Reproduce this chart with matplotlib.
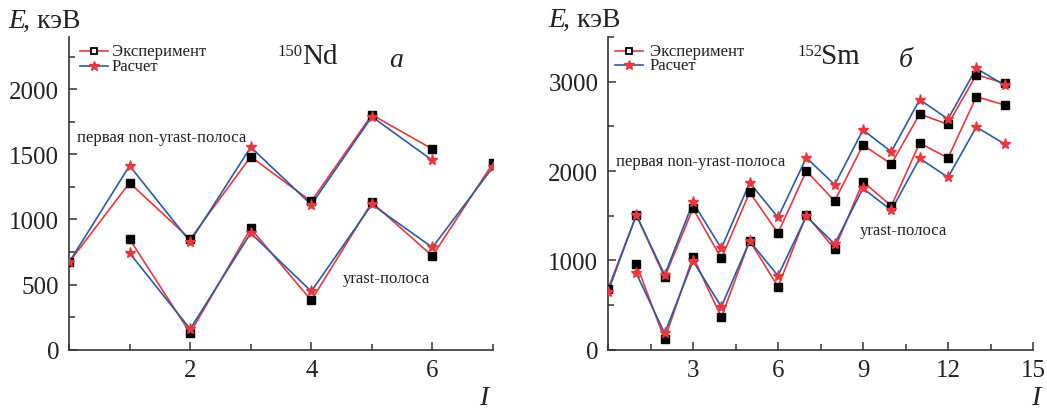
import matplotlib
matplotlib.use("Agg")
import matplotlib.pyplot as plt
from matplotlib.lines import Line2D
from matplotlib.ticker import MultipleLocator

plt.rcParams['font.family'] = ['Liberation Serif', 'DejaVu Serif']

RED = '#e8383d'
BLUE = '#2a5aa8'

# ---- 150Nd data ----
nd_upper_I = [0, 1, 2, 3, 4, 5, 6]
nd_upper_exp = [670, 1281, 849, 1481, 1138, 1803, 1540]
nd_upper_calc = [670, 1412, 829, 1555, 1113, 1788, 1453]
nd_lower_I = [1, 2, 3, 4, 5, 6, 7]
nd_lower_exp = [849, 128, 931, 378, 1130, 719, 1432]
nd_lower_calc = [742, 159, 895, 448, 1115, 785, 1402]

# ---- 152Sm data ----
sm_upper_I = [0, 1, 2, 3, 4, 5, 6, 7, 8, 9, 10, 11, 12, 13, 14]
sm_upper_exp = [679, 1507, 811, 1582, 1022, 1761, 1306, 2000, 1664, 2291, 2078, 2638, 2522, 3078, 2981]
sm_upper_calc = [649, 1507, 836, 1649, 1134, 1869, 1481, 2149, 1847, 2459, 2216, 2799, 2582, 3149, 2959]
sm_lower_I = [1, 2, 3, 4, 5, 6, 7, 8, 9, 10, 11, 12, 13, 14]
sm_lower_exp = [959, 116, 1041, 362, 1220, 705, 1507, 1127, 1881, 1608, 2313, 2146, 2832, 2739]
sm_lower_calc = [854, 183, 993, 481, 1216, 828, 1493, 1183, 1806, 1560, 2142, 1929, 2493, 2302]

W, H = 1047, 410
fig = plt.figure(figsize=(W / 100, H / 100), dpi=100)
TXT = '#222222'


def fx(px):
    return px / W


def fy(py):
    return 1 - py / H


def make_ax(left, right, top, bottom):
    ax = fig.add_axes([fx(left), fy(bottom), fx(right - left), (bottom - top) / H])
    for s in ['top', 'right']:
        ax.spines[s].set_visible(False)
    for s in ['left', 'bottom']:
        ax.spines[s].set_color('#333333')
        ax.spines[s].set_linewidth(1.2)
    ax.tick_params(which='both', direction='in', colors='#333333', width=1.1,
                   labelsize=18, labelcolor=TXT)
    ax.tick_params(which='major', length=6, pad=7)
    ax.tick_params(which='minor', length=4.5)
    return ax


def draw_band(ax, I, exp, calc):
    ax.plot(I, exp, color=RED, lw=1.2, zorder=2)
    ax.plot(I, calc, color=BLUE, lw=1.2, zorder=2)
    ax.plot(I, exp, ls='none', marker='s', ms=5.5, color='black', zorder=3)
    ax.plot(I, calc, ls='none', marker='*', ms=8, color=RED, mec=RED, zorder=4)


def legend(x0, x1, y1, y2, xt):
    fig.add_artist(Line2D([fx(x0), fx(x1)], [fy(y1), fy(y1)], color=RED, lw=1.2))
    fig.add_artist(Line2D([fx((x0 + x1) / 2)], [fy(y1)], ls='none', marker='s', ms=4.5,
                          mfc='white', mec='black', mew=1.3))
    fig.add_artist(Line2D([fx(x0), fx(x1)], [fy(y2), fy(y2)], color=BLUE, lw=1.2))
    fig.add_artist(Line2D([fx((x0 + x1) / 2)], [fy(y2)], ls='none', marker='*', ms=7.5,
                          color=RED))
    fig.text(fx(xt), fy(y1), 'Эксперимент', fontsize=12, va='center', color=TXT)
    fig.text(fx(xt), fy(y2), 'Расчет', fontsize=12, va='center', color=TXT)


# ---- Left panel ----
ax1 = make_ax(69, 493, 38, 350.7)
draw_band(ax1, nd_upper_I, nd_upper_exp, nd_upper_calc)
draw_band(ax1, nd_lower_I, nd_lower_exp, nd_lower_calc)
ax1.set_xlim(0, 7)
ax1.set_ylim(0, 2400)
ax1.xaxis.set_minor_locator(MultipleLocator(1))
ax1.set_xticks([2, 4, 6])
ax1.yaxis.set_major_locator(MultipleLocator(500))
ax1.yaxis.set_minor_locator(MultipleLocator(250))

fig.text(fx(8), fy(28), 'E', fontsize=20, style='italic', va='baseline', color=TXT)
fig.text(fx(23), fy(28), ', кэВ', fontsize=20, va='baseline', color=TXT)
legend(80, 108, 51.7, 66.7, 112)
fig.text(fx(277), fy(56), '150', fontsize=12, va='baseline', color=TXT)
fig.text(fx(302), fy(64), 'Nd', fontsize=21, va='baseline', color=TXT)
fig.text(fx(389), fy(66.7), 'a', fontsize=20, style='italic', va='baseline', color=TXT)
fig.text(fx(77), fy(141.7), 'первая non-yrast-полоса', fontsize=12, va='baseline', color=TXT)
fig.text(fx(343), fy(283), 'yrast-полоса', fontsize=12, va='baseline', color=TXT)
fig.text(fx(479), fy(405), 'I', fontsize=20, style='italic', va='baseline', color=TXT)

# ---- Right panel ----
ax2 = make_ax(608, 1033, 38, 350.7)
draw_band(ax2, sm_upper_I, sm_upper_exp, sm_upper_calc)
draw_band(ax2, sm_lower_I, sm_lower_exp, sm_lower_calc)
ax2.set_xlim(0, 15)
ax2.set_ylim(0, 3500)
ax2.xaxis.set_minor_locator(MultipleLocator(1.5))
ax2.set_xticks([3, 6, 9, 12, 15])
ax2.yaxis.set_major_locator(MultipleLocator(1000))
ax2.yaxis.set_minor_locator(MultipleLocator(500))

fig.text(fx(548), fy(27), 'E', fontsize=20, style='italic', va='baseline', color=TXT)
fig.text(fx(563), fy(27), ', кэВ', fontsize=20, va='baseline', color=TXT)
legend(615, 643, 51.7, 66, 650)
fig.text(fx(797), fy(56), '152', fontsize=12, va='baseline', color=TXT)
fig.text(fx(821), fy(64), 'Sm', fontsize=21, va='baseline', color=TXT)
fig.text(fx(899), fy(66.7), 'б', fontsize=20, style='italic', va='baseline', color=TXT)
fig.text(fx(616), fy(165.7), 'первая non-yrast-полоса', fontsize=12, va='baseline', color=TXT)
fig.text(fx(860), fy(235), 'yrast-полоса', fontsize=12, va='baseline', color=TXT)
fig.text(fx(1031), fy(405), 'I', fontsize=20, style='italic', va='baseline', color=TXT)

fig.savefig('out.png', dpi=100)
